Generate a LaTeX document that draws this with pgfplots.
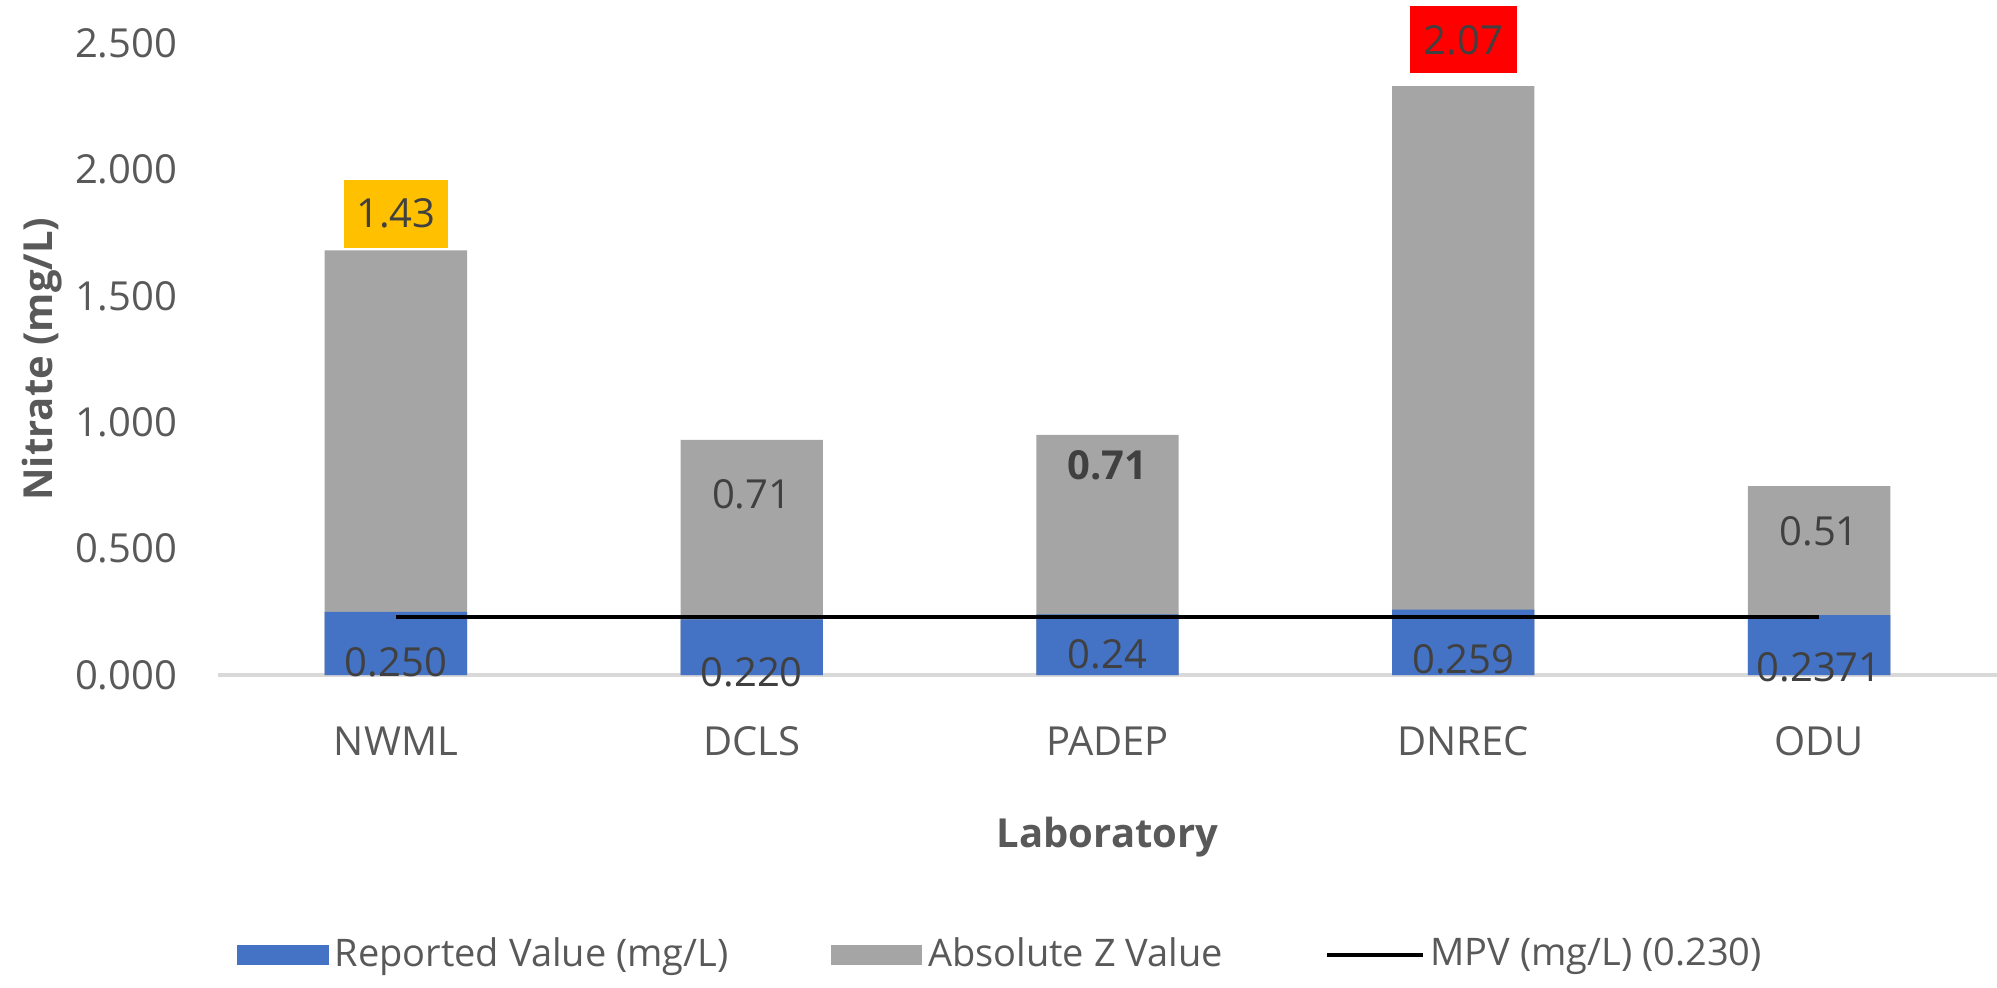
\documentclass[border=0pt]{standalone}
\usepackage{pgfplots}
\pgfplotsset{compat=1.18}
\usepackage{pgfplotstable}
\usepackage{fontspec}
\setmainfont{Open Sans}

\definecolor{repblue}{HTML}{4472C4}
\definecolor{zgray}{HTML}{A5A5A5}
\definecolor{warnyel}{HTML}{FFC000}
\definecolor{badred}{HTML}{FF0000}
\definecolor{txt}{HTML}{595959}
\definecolor{lbl}{HTML}{404040}
\definecolor{axln}{HTML}{D9D9D9}

% laboratory, reported value, absolute z value
\pgfplotstableread{
x   lab    rep    absz
0.5 NWML   0.250  1.43
1.5 DCLS   0.220  0.71
2.5 PADEP  0.24   0.71
3.5 DNREC  0.259  2.07
4.5 ODU    0.2371 0.51
}\labdata

\pgfplotsset{
  blueleg/.style={legend image code/.code={\fill[repblue] (0pt,-2.4pt) rectangle (22.5pt,2.4pt);}},
  grayleg/.style={legend image code/.code={\fill[zgray] (0pt,-2.4pt) rectangle (22.5pt,2.4pt);}},
  lineleg/.style={legend image code/.code={\draw[black,line width=0.9pt] (0pt,0pt) -- (24pt,0pt);}},
}
\tikzset{vlab/.style={font=\fontsize{10}{12}\selectfont, text=lbl, inner sep=1pt}}

\begin{document}
\begin{tikzpicture}
\useasboundingbox (0,0) rectangle (499.25pt,246.75pt);
\begin{axis}[
    at={(54.5pt,78pt)}, anchor=south west,
    scale only axis,
    width=444.75pt, height=158pt,
    xmin=0, xmax=5, ymin=0, ymax=2.5,
    clip=false,
    axis x line*=bottom, axis y line*=left,
    x axis line style={draw=axln, line width=0.9pt},
    y axis line style={draw=none},
    xtick={0.5,1.5,2.5,3.5,4.5},
    xticklabels={NWML,DCLS,PADEP,DNREC,ODU},
    ytick={0,0.5,1,1.5,2,2.5},
    major tick length=0pt,
    /pgf/number format/assume math mode=true,
    yticklabel style={/pgf/number format/fixed, /pgf/number format/fixed zerofill, /pgf/number format/precision=3,
        anchor=east, inner sep=0pt, xshift=-10pt, font=\fontsize{10}{12}\selectfont, text=txt},
    xticklabel style={anchor=center, inner sep=0pt, yshift=-16.5pt, font=\fontsize{10}{12}\selectfont, text=txt},
    xlabel={Laboratory},
    ylabel={Nitrate (mg/L)},
    every axis x label/.style={at={(axis description cs:0.5,-0.2563)}, anchor=center, font=\bfseries\fontsize{10}{12}\selectfont, text=txt},
    every axis y label/.style={at={(axis description cs:-0.0989,0.5)}, rotate=90, anchor=center, font=\bfseries\fontsize{10}{12}\selectfont, text=txt},
    legend columns=3,
    legend style={at={(axis description cs:0.441,-0.443)}, anchor=center, draw=none, fill=none,
        font=\fontsize{9.5}{11}\selectfont, text=txt, nodes={inner sep=1.5pt},
        /tikz/every even column/.append style={column sep=24pt}},
]
% gray bar runs up to reported value + |Z|, blue part drawn over it
\addplot[ybar, bar width=0.4, bar shift=0pt, fill=zgray, draw=none, forget plot]
    table[x=x, y expr=\thisrow{rep}+\thisrow{absz}] {\labdata};
\addplot[ybar, bar width=0.4, bar shift=0pt, fill=repblue, draw=none, forget plot]
    table[x=x, y=rep] {\labdata};
\addplot[black, line width=0.9pt, forget plot] coordinates {(0.5,0.230) (4.5,0.230)};

\addlegendimage{blueleg}\addlegendentry{Reported Value (mg/L)}
\addlegendimage{grayleg}\addlegendentry{Absolute Z Value}
\addlegendimage{lineleg}\addlegendentry{MPV (mg/L) (0.230)}

% data labels
\node[vlab, fill=warnyel, minimum width=26pt, minimum height=17pt, anchor=south, yshift=0.5pt] at (axis cs:0.5,1.68) {1.43};
\node[vlab, fill=badred, minimum width=26.75pt, minimum height=16.75pt, anchor=south, yshift=3pt] at (axis cs:3.5,2.329) {2.07};
\node[vlab] at (axis cs:1.5,0.716) {0.71};
\node[vlab, font=\bfseries\fontsize{10}{12}\selectfont] at (axis cs:2.5,0.831) {0.71};
\node[vlab] at (axis cs:4.5,0.57) {0.51};
\node[vlab] at (axis cs:0.5,0.05) {0.250};
\node[vlab] at (axis cs:1.5,0.012) {0.220};
\node[vlab] at (axis cs:2.5,0.083) {0.24};
\node[vlab] at (axis cs:3.5,0.063) {0.259};
\node[vlab] at (axis cs:4.5,0.032) {0.2371};
\end{axis}
\end{tikzpicture}
\end{document}
